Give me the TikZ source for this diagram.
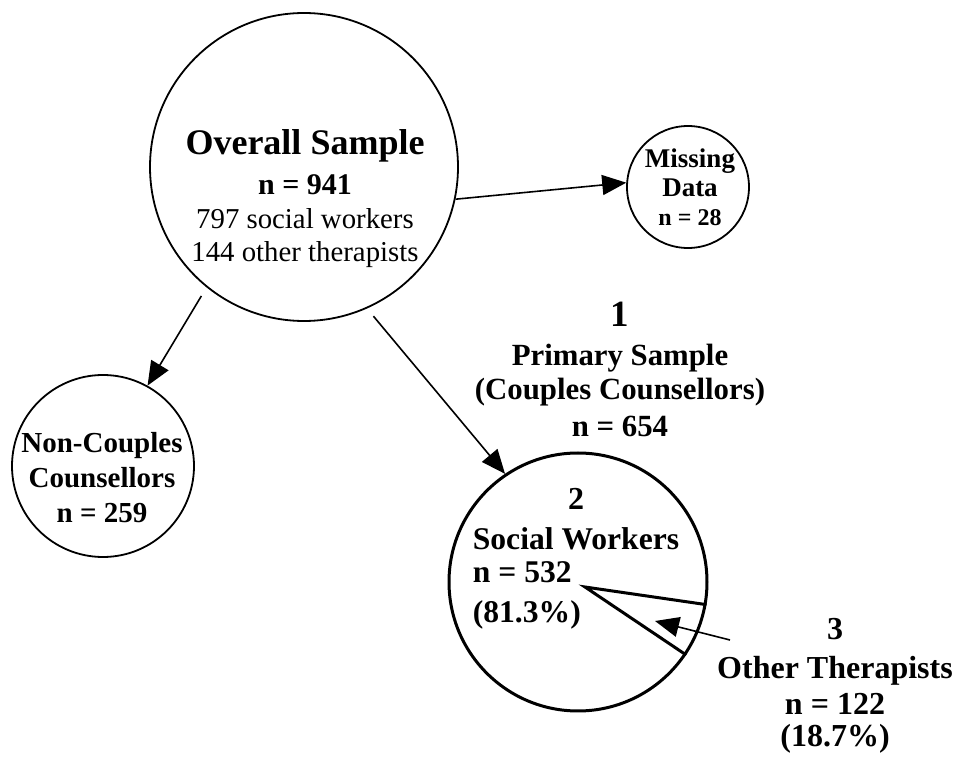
\documentclass[tikz,border=0pt]{standalone}
\usepackage{fontspec}
\setmainfont{Liberation Serif}
\usetikzlibrary{arrows.meta, positioning, calc}
\tikzset{
  ring/.style={circle, draw, line width=0.9pt, inner sep=0pt},
  ringB/.style={circle, draw, line width=1.5pt, inner sep=0pt},
  arrowK/.style={-{Triangle[length=12pt, width=10pt]}, line width=0.8pt},
  wedge/.style={line width=1.5pt},
  txt/.style={inner sep=0pt, anchor=north, align=center},
}
\begin{document}
\begin{tikzpicture}[x=0.5pt, y=-0.5pt]
  \fill[white] (0,0) rectangle (966,759);
  \useasboundingbox (0,0) rectangle (966,759);
  % circles
  \node[ring, minimum size=154pt] (ov) at (304,167) {};
  \node[ring, minimum size=61pt] (miss) at (688,187) {};
  \node[ring, minimum size=91pt] (nc) at (103,466) {};
  \node[ringB, minimum size=129pt] (sw) at (578,582) {};
  % texts
  \node[txt, font=\fontsize{14.4}{16.5}\selectfont] (ovtext) at (305,129)
    {{\bfseries\fontsize{18}{20}\selectfont Overall Sample}\\[3.5pt]
     {\bfseries\fontsize{15}{17}\selectfont n = 941}\\[0.5pt]
     797 social workers\\
     144 other therapists};
  \node[txt, font=\bfseries\fontsize{13.5}{14.5}\selectfont] (misstext) at (690,148)
    {Missing\\Data\\{\fontsize{12}{14}\selectfont n = 28}};
  \node[txt, font=\bfseries\fontsize{14.5}{17.5}\selectfont] (nctext) at (102,432)
    {Non-Couples\\Counsellors\\n = 259};
  \node[txt, font=\bfseries\fontsize{15.4}{18}\selectfont] (primary) at (620,302)
    {{\fontsize{18.5}{20}\selectfont 1}\\[1.5pt]
     Primary Sample\\[-1pt]
     (Couples Counsellors)\\[0.5pt]
     n = 654};
  \node[txt, font=\bfseries\fontsize{15.8}{18}\selectfont] (swtext) at (576,488)
    {{\fontsize{16}{18}\selectfont 2}\\[2pt]
     Social Workers\\[-1.5pt]
     \rlap{n = 532}\phantom{Social Workers}\\[2pt]
     \rlap{(81.3\%)}\phantom{Social Workers}};
  \node[txt, font=\bfseries\fontsize{16}{18}\selectfont] (ottext) at (835,618)
    {3\\[1.5pt] Other Therapists\\ n = 122\\[-2pt] (18.7\%)};
  % arrows
  \draw[arrowK] (ov.-12) -- (miss.176);
  \draw[arrowK, shorten <=5pt] (ov.-129) -- (nc.61);
  \draw[arrowK, shorten <=5pt] (ov.-66) -- (sw.124);
  % slice
  \coordinate (apex) at ($(sw.center)+(7,5)$);
  \draw[wedge] (sw.-10) -- (apex) -- (sw.-34);
  \coordinate (wtail) at (730,640);
  \coordinate (wtip) at (655,621);
  \draw[arrowK] (wtail) -- (wtip);
\end{tikzpicture}
\end{document}
